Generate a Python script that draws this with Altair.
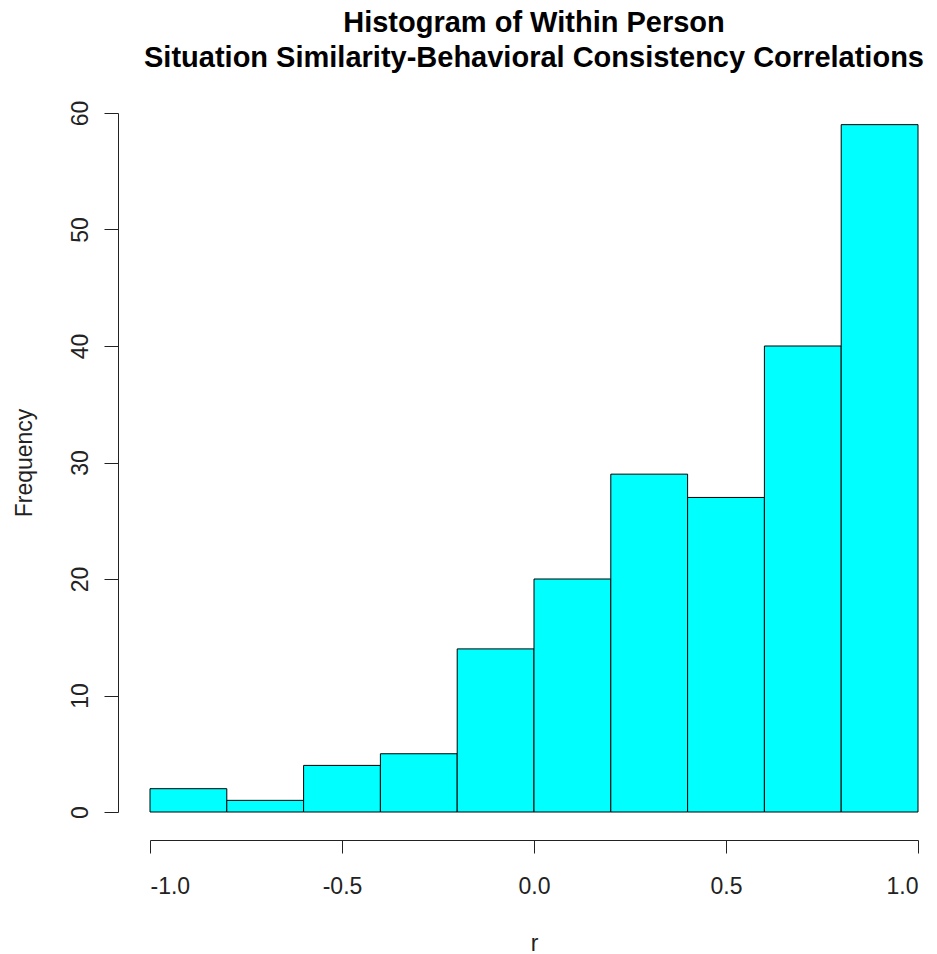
import altair as alt
import pandas as pd

bin_start = [-1.0, -0.8, -0.6, -0.4, -0.2, 0.0, 0.2, 0.4, 0.6, 0.8]
bin_end = [-0.8, -0.6, -0.4, -0.2, 0.0, 0.2, 0.4, 0.6, 0.8, 1.0]
counts = [2, 1, 4, 5, 14, 20, 29, 27, 40, 59]
x_ticks = [-1.0, -0.5, 0.0, 0.5, 1.0]
y_ticks = [0, 10, 20, 30, 40, 50, 60]

df = pd.DataFrame({"start": bin_start, "end": bin_end, "count": counts})

FONT = "Liberation Sans"
AX = "#222"

chart = alt.Chart(df).mark_rect(
    fill="#00FFFF", stroke="black", strokeWidth=1
).encode(
    x=alt.X("start:Q", scale=alt.Scale(domain=[-1, 1], nice=False, zero=False),
            axis=alt.Axis(values=x_ticks, title="r", offset=28, tickSize=13,
                          labelExpr="replace(format(datum.value, '.1f'), '\u2212', '-')",
                          labelPadding=22, titlePadding=34, grid=False,
                          domainColor=AX, tickColor=AX,
                          labelFontSize=23, titleFontSize=23, titleFontWeight="normal",
                          labelColor=AX, titleColor=AX, labelFont=FONT, titleFont=FONT)),
    x2="end:Q",
    y=alt.Y("count:Q", scale=alt.Scale(domain=[0, 60], nice=False),
            axis=alt.Axis(values=y_ticks, title="Frequency", offset=32, tickSize=14,
                          labelAngle=270, labelAlign="center", labelBaseline="bottom",
                          labelPadding=12, titlePadding=33, grid=False,
                          domainColor=AX, tickColor=AX,
                          labelFontSize=23, titleFontSize=23, titleFontWeight="normal",
                          labelColor=AX, titleColor=AX, labelFont=FONT, titleFont=FONT)),
    y2=alt.datum(0),
).properties(
    width=768,
    height=699,
    background="white",
    title=alt.TitleParams(
        text=["Histogram of Within Person", "Situation Similarity-Behavioral Consistency Correlations"],
        font=FONT, fontSize=29, fontWeight="bold", color="black",
        anchor="middle", lineHeight=35, offset=27,
    ),
    autosize=alt.AutoSizeParams(type="none"),
    padding={"left": 150, "top": 113, "right": 19, "bottom": 142},
).configure_view(stroke="transparent", strokeWidth=0)

chart.save("out.html", embed_options={"renderer": "svg", "actions": False})
